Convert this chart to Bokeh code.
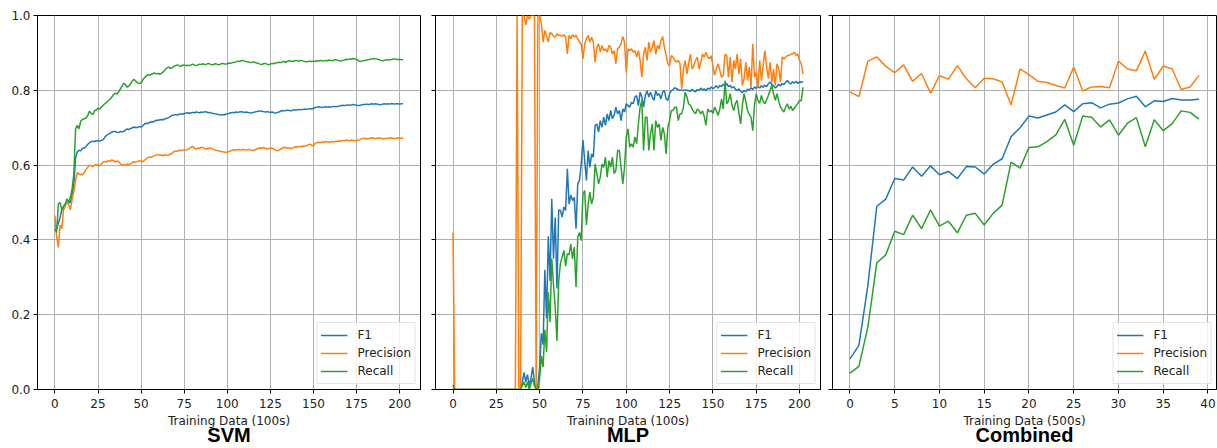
from bokeh.plotting import figure
from bokeh.layouts import row
from bokeh.models import (Range1d, FixedTicker, PrintfTickFormatter, Legend, LegendItem, LinearAxis,
                          CustomLabelingPolicy)
from bokeh.embed import file_html
from bokeh.resources import INLINE

# ---------------- data ----------------
series_names = ["F1", "Precision", "Recall"]
colors = ["#1f77b4", "#ff7f0e", "#2ca02c"]
y_ticks = [0.0, 0.2, 0.4, 0.6, 0.8, 1.0]
svm_x_ticks = [0, 25, 50, 75, 100, 125, 150, 175, 200]
mlp_x_ticks = [0, 25, 50, 75, 100, 125, 150, 175, 200]
comb_x_ticks = [0, 5, 10, 15, 20, 25, 30, 35, 40]

svm_f1 = [
    0.44, 0.43, 0.445, 0.46, 0.48, 0.49, 0.495, 0.50, 0.50, 0.50,
    0.52, 0.55, 0.62, 0.635, 0.64, 0.638, 0.645, 0.645, 0.65, 0.655,
    0.66, 0.662, 0.664, 0.663, 0.665, 0.665, 0.664, 0.666, 0.668, 0.675,
    0.68, 0.682, 0.685, 0.688, 0.69, 0.69, 0.688, 0.687, 0.69, 0.689,
    0.69, 0.694, 0.697, 0.695, 0.698, 0.70, 0.702, 0.70, 0.701, 0.703,
    0.702, 0.705, 0.71, 0.712, 0.711, 0.714, 0.716, 0.715, 0.718, 0.72,
    0.72, 0.721, 0.722, 0.721, 0.724, 0.725, 0.727, 0.73, 0.733, 0.734,
    0.735, 0.734, 0.736, 0.737, 0.736, 0.738, 0.739, 0.74, 0.738, 0.74,
    0.741, 0.740, 0.742, 0.741, 0.740, 0.742, 0.741, 0.743, 0.742, 0.740,
    0.741, 0.739, 0.738, 0.737, 0.736, 0.735, 0.734, 0.735, 0.734, 0.736,
    0.737, 0.738, 0.740, 0.741, 0.740, 0.742, 0.741, 0.742, 0.743, 0.742,
    0.741, 0.742, 0.741, 0.740, 0.739, 0.741, 0.742, 0.743, 0.744, 0.745,
    0.744, 0.743, 0.742, 0.743, 0.742, 0.741, 0.742, 0.740, 0.739, 0.741,
    0.742, 0.744, 0.746, 0.745, 0.746, 0.747, 0.746, 0.745, 0.747, 0.748,
    0.747, 0.748, 0.749, 0.748, 0.749, 0.750, 0.749, 0.750, 0.751, 0.750,
    0.752, 0.754, 0.755, 0.756, 0.755, 0.754, 0.755, 0.756, 0.755, 0.756,
    0.755, 0.756, 0.757, 0.756, 0.757, 0.758, 0.759, 0.760, 0.759, 0.760,
    0.761, 0.760, 0.761, 0.762, 0.761, 0.760, 0.759, 0.760, 0.761, 0.762,
    0.762, 0.763, 0.762, 0.763, 0.764, 0.763, 0.764, 0.763, 0.762, 0.761,
    0.763, 0.764, 0.763, 0.764, 0.763, 0.764, 0.764, 0.763, 0.764, 0.764,
    0.763, 0.764, 0.764,
]
svm_precision = [
    0.465, 0.41, 0.38, 0.44, 0.43, 0.48, 0.49, 0.50, 0.495, 0.48,
    0.51, 0.53, 0.56, 0.58, 0.576, 0.575, 0.574, 0.58, 0.588, 0.594,
    0.60, 0.598, 0.596, 0.60, 0.602, 0.600, 0.598, 0.603, 0.608, 0.610,
    0.608, 0.612, 0.610, 0.614, 0.612, 0.608, 0.611, 0.609, 0.604, 0.600,
    0.601, 0.599, 0.603, 0.601, 0.604, 0.607, 0.609, 0.608, 0.610, 0.612,
    0.611, 0.609, 0.613, 0.617, 0.620, 0.622, 0.621, 0.624, 0.626, 0.627,
    0.628, 0.626, 0.627, 0.625, 0.628, 0.626, 0.627, 0.629, 0.632, 0.636,
    0.638, 0.637, 0.640, 0.639, 0.640, 0.641, 0.640, 0.642, 0.644, 0.648,
    0.650, 0.645, 0.643, 0.646, 0.645, 0.648, 0.646, 0.644, 0.643, 0.645,
    0.646, 0.644, 0.642, 0.640, 0.639, 0.638, 0.637, 0.636, 0.635, 0.634,
    0.635, 0.636, 0.638, 0.640, 0.641, 0.640, 0.642, 0.641, 0.640, 0.642,
    0.641, 0.640, 0.641, 0.642, 0.640, 0.639, 0.641, 0.643, 0.645, 0.646,
    0.645, 0.647, 0.645, 0.643, 0.644, 0.646, 0.645, 0.643, 0.640, 0.638,
    0.640, 0.643, 0.645, 0.648, 0.647, 0.645, 0.646, 0.644, 0.646, 0.648,
    0.649, 0.648, 0.650, 0.649, 0.651, 0.650, 0.652, 0.654, 0.656, 0.653,
    0.652, 0.658, 0.660, 0.661, 0.660, 0.662, 0.661, 0.663, 0.662, 0.661,
    0.662, 0.663, 0.662, 0.664, 0.663, 0.665, 0.664, 0.666, 0.665, 0.667,
    0.666, 0.665, 0.667, 0.666, 0.665, 0.666, 0.667, 0.668, 0.670, 0.672,
    0.671, 0.670, 0.671, 0.672, 0.673, 0.672, 0.671, 0.672, 0.673, 0.672,
    0.671, 0.670, 0.672, 0.671, 0.672, 0.673, 0.672, 0.671, 0.672, 0.673,
    0.672, 0.672, 0.672,
]
svm_recall = [
    0.43, 0.42, 0.496, 0.50, 0.479, 0.488, 0.496, 0.51, 0.50, 0.514,
    0.537, 0.577, 0.697, 0.706, 0.697, 0.718, 0.722, 0.724, 0.726, 0.732,
    0.744, 0.738, 0.735, 0.745, 0.748, 0.752, 0.750, 0.755, 0.760, 0.764,
    0.768, 0.772, 0.776, 0.782, 0.788, 0.792, 0.790, 0.796, 0.804, 0.812,
    0.819, 0.814, 0.808, 0.812, 0.818, 0.826, 0.829, 0.824, 0.820, 0.818,
    0.820, 0.828, 0.834, 0.838, 0.842, 0.840, 0.843, 0.845, 0.846, 0.844,
    0.845, 0.843, 0.846, 0.850, 0.855, 0.860, 0.862, 0.858, 0.860, 0.864,
    0.866, 0.868, 0.866, 0.864, 0.867, 0.868, 0.866, 0.867, 0.866, 0.868,
    0.870, 0.867, 0.866, 0.868, 0.870, 0.869, 0.871, 0.868, 0.870, 0.872,
    0.870, 0.868, 0.869, 0.871, 0.870, 0.868, 0.870, 0.872, 0.871, 0.870,
    0.871, 0.873, 0.872, 0.874, 0.875, 0.876, 0.878, 0.877, 0.879, 0.880,
    0.878, 0.877, 0.876, 0.875, 0.874, 0.876, 0.875, 0.873, 0.872, 0.870,
    0.869, 0.871, 0.872, 0.870, 0.868, 0.870, 0.872, 0.871, 0.873, 0.874,
    0.875, 0.874, 0.876, 0.877, 0.875, 0.878, 0.879, 0.878, 0.877, 0.879,
    0.880, 0.878, 0.879, 0.880, 0.878, 0.877, 0.876, 0.877, 0.878, 0.877,
    0.878, 0.877, 0.879, 0.878, 0.880, 0.879, 0.878, 0.880, 0.879, 0.881,
    0.880, 0.879, 0.881, 0.882, 0.880, 0.879, 0.878, 0.880, 0.881, 0.883,
    0.882, 0.884, 0.883, 0.885, 0.884, 0.883, 0.879, 0.877, 0.878, 0.879,
    0.880, 0.881, 0.882, 0.883, 0.884, 0.885, 0.884, 0.883, 0.882, 0.880,
    0.879, 0.880, 0.881, 0.882, 0.881, 0.882, 0.883, 0.884, 0.883, 0.882,
    0.883, 0.882, 0.882,
]

mlp_f1 = [
    0.013,
    0, 0, 0, 0, 0, 0, 0, 0, 0, 0,
    0, 0, 0, 0, 0, 0, 0, 0, 0, 0,
    0, 0, 0, 0, 0, 0, 0, 0, 0, 0,
    0, 0, 0, 0, 0, 0, 0, 0, 0,
    0.02, 0.046, 0.02, 0.04, 0.01, 0.03, 0.06, 0.02, 0.0, 0.01,
    0.06, 0.15, 0.12, 0.32, 0.19, 0.41, 0.29, 0.51, 0.35, 0.46, 0.27, 0.48,
    0.479, 0.461, 0.488, 0.479, 0.59, 0.496, 0.52, 0.505, 0.514, 0.43,
    0.55, 0.559, 0.603, 0.667, 0.612, 0.559, 0.639, 0.594, 0.63, 0.621,
    0.706, 0.71, 0.688, 0.719, 0.701, 0.728, 0.706, 0.737, 0.719, 0.746,
    0.724, 0.733, 0.755, 0.737, 0.746, 0.719, 0.75, 0.742, 0.764, 0.759,
    0.755, 0.768, 0.764, 0.782, 0.786, 0.759, 0.795, 0.782, 0.755, 0.786,
    0.799, 0.782, 0.795, 0.782, 0.773, 0.799, 0.786, 0.791, 0.777, 0.795,
    0.799, 0.777, 0.773, 0.791, 0.799, 0.802, 0.807, 0.804, 0.802, 0.799,
    0.801, 0.799, 0.801, 0.80, 0.799,
    0.797, 0.803, 0.798, 0.796, 0.802, 0.799, 0.806, 0.801, 0.804, 0.799,
    0.806, 0.803, 0.809, 0.804, 0.808, 0.812, 0.806, 0.813, 0.81, 0.816,
    0.812, 0.818, 0.81, 0.813, 0.806, 0.81, 0.803, 0.799, 0.804, 0.797,
    0.794, 0.799, 0.796, 0.803, 0.8, 0.807, 0.802, 0.809, 0.805, 0.81,
    0.806, 0.812, 0.808, 0.814, 0.81, 0.818, 0.822, 0.816, 0.812, 0.806,
    0.81, 0.816, 0.812, 0.818, 0.815, 0.822, 0.826, 0.82, 0.817, 0.823,
    0.819, 0.824, 0.818, 0.823, 0.821, 0.824,
]
mlp_precision = [
    0.42,
    0, 0, 0, 0, 0, 0, 0, 0, 0, 0,
    0, 0, 0, 0, 0, 0, 0, 0, 0, 0,
    0, 0, 0, 0, 0, 0, 0, 0, 0, 0,
    0, 0, 0, 0, 0, 0,
    1.0, 0.0, 0.0, 1.0, 1.0, 0.975, 1.0, 0.99, 1.0, 1.0, 1.0, 0.0, 1.0, 1.0,
    0.978, 0.929, 0.96, 0.945, 0.929, 0.955, 0.951, 0.945, 0.942, 0.951, 0.947,
    0.947, 0.944, 0.949, 0.942, 0.897, 0.947, 0.938, 0.949, 0.942,
    0.947, 0.938, 0.929, 0.924, 0.884, 0.924, 0.938, 0.947, 0.929, 0.942,
    0.929, 0.875, 0.915, 0.924, 0.902, 0.92, 0.906, 0.911, 0.902, 0.92,
    0.915, 0.897, 0.906, 0.871, 0.911, 0.915, 0.924, 0.944, 0.929, 0.848,
    0.911, 0.906, 0.911, 0.902, 0.906, 0.889, 0.906, 0.880, 0.835, 0.897,
    0.915, 0.880, 0.929, 0.902, 0.915, 0.933, 0.897, 0.92, 0.911, 0.933,
    0.944, 0.915, 0.893, 0.871, 0.866, 0.893, 0.889, 0.880, 0.875, 0.880,
    0.871, 0.804, 0.857,
    0.880, 0.844, 0.871, 0.897, 0.857, 0.866, 0.880, 0.889, 0.857, 0.875,
    0.897, 0.889, 0.902, 0.889, 0.884, 0.893, 0.866, 0.840, 0.857, 0.871,
    0.853, 0.835, 0.840, 0.897, 0.893, 0.835, 0.889, 0.822, 0.880, 0.857,
    0.897, 0.844, 0.884, 0.813, 0.831, 0.875, 0.826, 0.862, 0.808, 0.924,
    0.835, 0.848, 0.808, 0.880, 0.826, 0.866, 0.906, 0.862, 0.831, 0.875,
    0.822, 0.857, 0.813, 0.871, 0.857, 0.822, 0.889, 0.884, 0.889, 0.893,
    0.893, 0.897, 0.897, 0.902, 0.893, 0.897, 0.880, 0.871, 0.844,
]
mlp_recall = [
    0.008,
    0, 0, 0, 0, 0, 0, 0, 0, 0, 0,
    0, 0, 0, 0, 0, 0, 0, 0, 0, 0,
    0, 0, 0, 0, 0, 0, 0, 0, 0, 0,
    0, 0, 0, 0, 0, 0, 0, 0, 0,
    0.01, 0.02, 0.005, 0.02, 0.0, 0.015, 0.03, 0.01, 0.0, 0.0,
    0.03, 0.09, 0.06, 0.16, 0.10, 0.26, 0.18, 0.35, 0.28, 0.22, 0.13, 0.29,
    0.337, 0.354, 0.372, 0.33, 0.363, 0.36, 0.389, 0.349, 0.381, 0.274,
    0.407, 0.42, 0.398, 0.523, 0.532, 0.44, 0.496, 0.528, 0.496, 0.514,
    0.603, 0.577, 0.55, 0.568, 0.603, 0.594, 0.621, 0.568, 0.612, 0.594,
    0.621, 0.577, 0.586, 0.639, 0.639, 0.594, 0.55, 0.594, 0.675, 0.697,
    0.648, 0.657, 0.648, 0.675, 0.657, 0.71, 0.755, 0.773, 0.639, 0.728,
    0.728, 0.639, 0.684, 0.71, 0.639, 0.719, 0.701, 0.71, 0.666, 0.701,
    0.684, 0.63, 0.701, 0.719, 0.746, 0.746, 0.755, 0.755, 0.719, 0.737,
    0.737, 0.755, 0.795, 0.782, 0.764,
    0.76, 0.75, 0.742, 0.737, 0.75, 0.746, 0.737, 0.745, 0.73, 0.706,
    0.75, 0.742, 0.746, 0.738, 0.755, 0.745, 0.733, 0.75, 0.777, 0.75,
    0.826, 0.764, 0.772, 0.791, 0.76, 0.746, 0.765, 0.773, 0.74, 0.71,
    0.76, 0.791, 0.77, 0.746, 0.735, 0.728, 0.692, 0.76, 0.791, 0.773,
    0.765, 0.786, 0.77, 0.764, 0.775, 0.786, 0.80, 0.813, 0.79, 0.773,
    0.791, 0.77, 0.755, 0.748, 0.742, 0.755, 0.764, 0.75, 0.758, 0.746,
    0.752, 0.759, 0.765, 0.773, 0.772, 0.808,
]

comb_f1 = [
    0.082, 0.118, 0.278, 0.490, 0.509, 0.564, 0.560, 0.595, 0.570, 0.598,
    0.574, 0.583, 0.564, 0.596, 0.595, 0.576, 0.602, 0.617, 0.676, 0.700,
    0.731, 0.726, 0.734, 0.742, 0.761, 0.743, 0.764, 0.767, 0.753, 0.763,
    0.766, 0.777, 0.784, 0.756, 0.772, 0.770, 0.778, 0.774, 0.774, 0.776,
]
comb_precision = [
    0.796, 0.783, 0.878, 0.889, 0.864, 0.847, 0.868, 0.824, 0.845, 0.792,
    0.839, 0.830, 0.866, 0.831, 0.807, 0.832, 0.831, 0.822, 0.761, 0.857,
    0.842, 0.824, 0.821, 0.813, 0.806, 0.862, 0.798, 0.809, 0.810, 0.807,
    0.878, 0.857, 0.852, 0.905, 0.829, 0.865, 0.857, 0.802, 0.809, 0.840,
]
comb_recall = [
    0.044, 0.062, 0.167, 0.339, 0.360, 0.423, 0.414, 0.466, 0.430, 0.480,
    0.437, 0.450, 0.419, 0.466, 0.471, 0.440, 0.471, 0.493, 0.608, 0.592,
    0.647, 0.649, 0.663, 0.681, 0.722, 0.653, 0.731, 0.728, 0.702, 0.721,
    0.680, 0.712, 0.727, 0.649, 0.721, 0.692, 0.711, 0.745, 0.741, 0.723,
]

# ---------------- styling helpers ----------------
TICK_FONT = "DejaVu Sans"
FIG_H = 448


def make_panel(title, xlabel, series, x_ticks, x_range, width, b_left, b_right, show_ylabels):
    p = figure(width=width, height=FIG_H, output_backend="svg", toolbar_location=None,
               x_range=Range1d(*x_range), y_range=Range1d(0, 1),
               min_border_left=b_left, min_border_right=b_right,
               min_border_top=15, min_border_bottom=59)
    p.background_fill_color = "white"
    p.border_fill_color = "white"
    p.outline_line_color = "black"
    p.outline_line_width = 1

    xa = p.xaxis[0]
    ya = p.yaxis[0]
    xa.ticker = FixedTicker(ticks=x_ticks)
    ya.ticker = FixedTicker(ticks=y_ticks)
    ya.formatter = PrintfTickFormatter(format="%.1f")
    for ax in (xa, ya):
        ax.axis_line_color = "black"
        ax.major_tick_line_color = "black"
        ax.major_tick_out = 4
        ax.major_tick_in = 0
        ax.minor_tick_line_color = None
        ax.major_label_text_font = TICK_FONT
        ax.major_label_text_font_size = "12px"
        ax.major_label_text_color = "#222222"
    xa.major_label_standoff = 5
    ya.major_label_standoff = 3
    if not show_ylabels:
        ya.major_label_text_font_size = "0px"
        ya.major_label_standoff = 0
        ya.major_label_policy = CustomLabelingPolicy(code="return []")

    xa.axis_label = xlabel
    xa.axis_label_text_font = TICK_FONT
    xa.axis_label_text_font_size = "12px"
    xa.axis_label_text_font_style = "normal"
    xa.axis_label_text_color = "#222222"
    xa.axis_label_standoff = 3

    p.xgrid.grid_line_color = "#b0b0b0"
    p.ygrid.grid_line_color = "#b0b0b0"
    p.xgrid.grid_line_width = 1
    p.ygrid.grid_line_width = 1

    items = []
    for name, color, ys in zip(series_names, colors, series):
        xs = list(range(len(ys)))
        r = p.line(xs, ys, line_color=color, line_width=1.5)
        items.append(LegendItem(label=name, renderers=[r]))
    leg = Legend(items=items, location="bottom_right")
    leg.margin = 5
    leg.padding = 3
    leg.spacing = 0
    leg.glyph_width = 27
    leg.glyph_height = 18
    leg.label_height = 18
    leg.label_standoff = 10
    leg.label_text_font = TICK_FONT
    leg.label_text_font_size = "12px"
    leg.label_text_color = "#222222"
    leg.border_line_color = "#cccccc"
    leg.border_line_width = 1
    leg.background_fill_color = "white"
    leg.background_fill_alpha = 0.8
    p.add_layout(leg)

    # panel title, drawn as the label of an extra tick-less axis under the x axis
    ta = LinearAxis(ticker=FixedTicker(ticks=[]), axis_label=title)
    ta.axis_line_color = None
    ta.major_tick_line_color = None
    ta.minor_tick_line_color = None
    ta.major_tick_out = 0
    ta.major_tick_in = 0
    ta.major_label_standoff = 0
    ta.major_label_text_font_size = "0px"
    ta.axis_label_standoff = -7
    ta.axis_label_text_font = "Liberation Sans"
    ta.axis_label_text_font_size = "20px"
    ta.axis_label_text_font_style = "bold"
    ta.axis_label_text_color = "black"
    p.add_layout(ta, "below")
    return p


p1 = make_panel("SVM", "Training Data (100s)", [svm_f1, svm_precision, svm_recall],
                svm_x_ticks, (-10.1, 212.1), 427, 37, 7, True)
p2 = make_panel("MLP", "Training Data (100s)", [mlp_f1, mlp_precision, mlp_recall],
                mlp_x_ticks, (-10.1, 212.1), 398, 8, 5, False)
p3 = make_panel("Combined", "Training Data (500s)", [comb_f1, comb_precision, comb_recall],
                comb_x_ticks, (-1.95, 40.95), 392, 7, 1, False)

layout = row(p1, p2, p3)
open("out.html", "w").write(file_html(layout, INLINE))
